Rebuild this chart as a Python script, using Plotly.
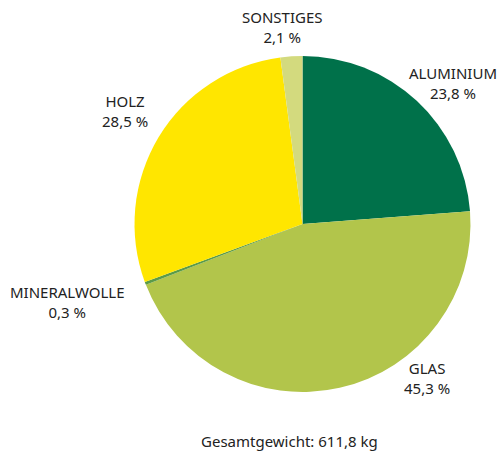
import plotly.graph_objects as go

categories = ["ALUMINIUM", "GLAS", "MINERALWOLLE", "HOLZ", "SONSTIGES"]
values = [23.8, 45.3, 0.3, 28.5, 2.1]
value_labels = ["23,8 %", "45,3 %", "0,3 %", "28,5 %", "2,1 %"]
colors = ["#00714a", "#b2c54b", "#5b9b48", "#ffe600", "#d3da7e"]
total_label = "Gesamtgewicht: 611,8 kg"

# label anchor positions (pixels in 500x455 canvas)
label_pos = {
    "ALUMINIUM": (453, 83),
    "GLAS": (427, 378),
    "MINERALWOLLE": (67, 302),
    "HOLZ": (125, 111),
    "SONSTIGES": (282, 27),
}

W, H = 500, 455
fig = go.Figure(go.Pie(
    labels=categories,
    values=values,
    sort=False,
    direction="clockwise",
    rotation=0,
    marker=dict(colors=colors, line=dict(width=0)),
    textinfo="none",
    hoverinfo="label+percent",
    domain=dict(x=[134 / W, 471 / W], y=[(H - 392) / H, (H - 56) / H]),
    showlegend=False,
))

font = dict(family="Noto Sans, Open Sans, sans-serif", size=15, color="#222222")
annotations = []
for cat, lab in zip(categories, value_labels):
    px, py = label_pos[cat]
    annotations.append(dict(
        x=px / W, y=1 - py / H, xref="paper", yref="paper",
        text=f"{cat}<br>{lab}", showarrow=False, font=font,
        xanchor="center", yanchor="middle", align="center",
    ))
annotations.append(dict(
    x=289 / W, y=1 - 441 / H, xref="paper", yref="paper",
    text=total_label, showarrow=False, font=font,
    xanchor="center", yanchor="middle",
))

fig.update_layout(
    width=W, height=H,
    margin=dict(l=0, r=0, t=0, b=0),
    paper_bgcolor="white",
    plot_bgcolor="white",
    annotations=annotations,
)
fig.write_html(
    "out.html",
    config={"displayModeBar": False},
    post_script="document.body.style.margin='0';document.body.style.overflow='hidden';",
)
